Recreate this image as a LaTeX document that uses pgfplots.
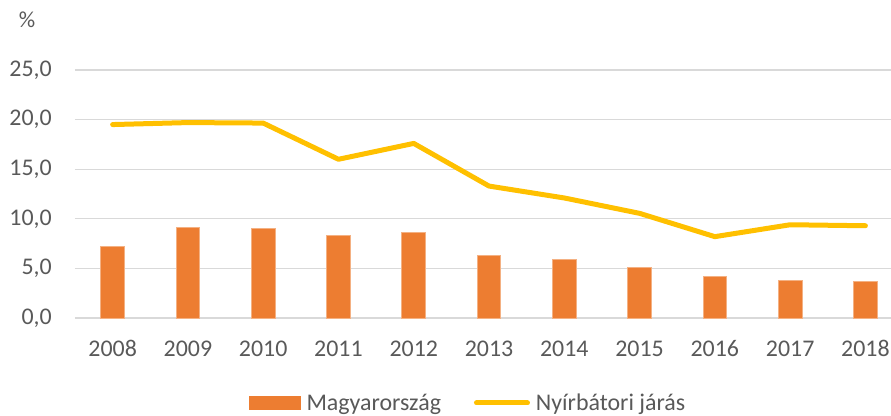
\documentclass[border=0pt]{standalone}
\usepackage{pgfplots}
\pgfplotsset{compat=1.18}
\usepackage{fontspec}
\setmainfont{Carlito}
\definecolor{barorange}{HTML}{ED7D31}
\definecolor{baredge}{HTML}{F4B183}
\definecolor{linegold}{HTML}{FFC000}
\definecolor{gridgray}{HTML}{D9D9D9}
\definecolor{txtgray}{HTML}{595959}
\begin{document}
\begin{tikzpicture}
\path[use as bounding box] (-75bp,-98bp) rectangle (816bp,318bp);
\begin{axis}[
  at={(0,0)}, anchor=south west,
  scale only axis, width=816bp, height=248bp,
  xmin=-0.5, xmax=10.34, ymin=0, ymax=25,
  xtick={0,...,10},
  xticklabels={2008,2009,2010,2011,2012,2013,2014,2015,2016,2017,2018},
  ytick={0,5,10,15,20,25},
  /pgf/number format/assume math mode=true,
  yticklabel={\pgfmathprintnumber[fixed,fixed zerofill,precision=1,use comma]{\tick}},
  axis line style={draw=none},
  major tick length=0pt,
  ymajorgrids, grid style={color=gridgray, line width=1.3bp},
  ticklabel style={font=\fontsize{24}{28}\selectfont, text=txtgray, inner sep=0pt},
  xticklabel style={anchor=center, yshift=-30.7bp},
  yticklabel style={anchor=east, xshift=-23bp},
  clip=false,
  legend columns=2,
  legend style={draw=none, at={(0.4804,-0.3427)}, anchor=center,
    font=\fontsize{24}{28}\selectfont, text=txtgray,
    nodes={inner sep=0pt},
    column sep=6bp,
    /tikz/every even column/.append style={column sep=33bp}},
]
\addplot[ybar, bar width=23.7bp, bar shift=0pt, fill=barorange, draw=baredge, line width=0.8bp,
  legend image code/.code={\fill[barorange] (0bp,-6.5bp) rectangle (51bp,6.5bp);}]
  coordinates {(0,7.2) (1,9.1) (2,9.0) (3,8.3) (4,8.6) (5,6.3) (6,5.9) (7,5.1) (8,4.2) (9,3.8) (10,3.7)};
\addlegendentry{Magyarország}
\addplot[linegold, line width=5bp, line cap=round, line join=round, mark=none,
  legend image code/.code={\draw[linegold, line width=5bp, line cap=round] (3bp,0bp) -- (54bp,0bp);}]
  coordinates {(0,19.5) (1,19.7) (2,19.65) (3,16.0) (4,17.6) (5,13.3) (6,12.1) (7,10.55) (8,8.2) (9,9.4) (10,9.3)};
\addlegendentry{Nyírbátori járás}
\node[font=\fontsize{23}{27}\selectfont, text=txtgray] at (rel axis cs:-0.0588,1.2016) {\%};
\end{axis}
\end{tikzpicture}
\end{document}
